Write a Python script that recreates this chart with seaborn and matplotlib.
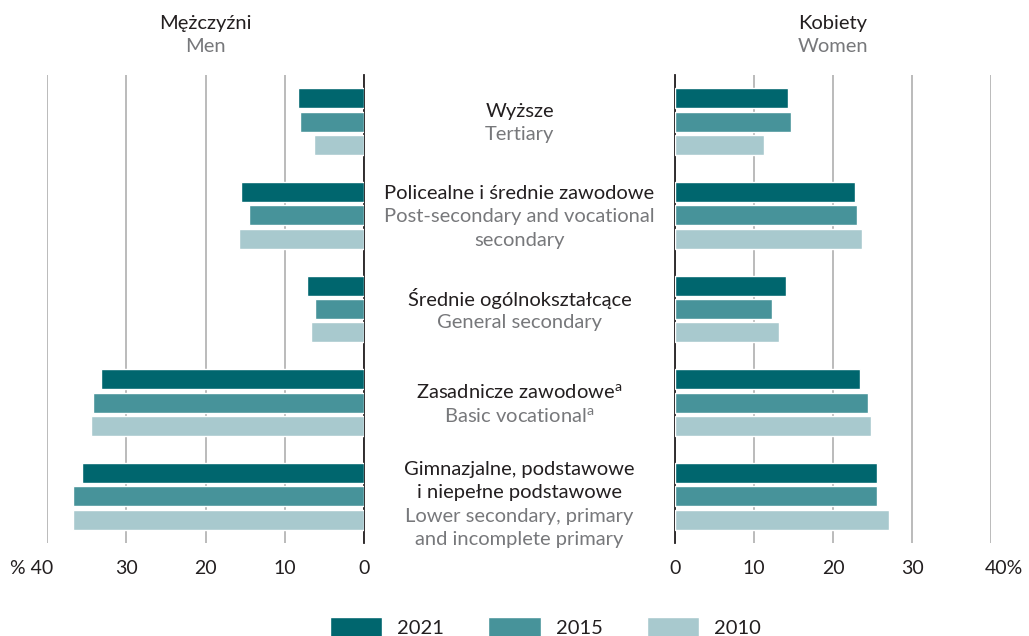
import numpy as np
import pandas as pd
import matplotlib.pyplot as plt
import seaborn as sns
from matplotlib.patches import Patch
from matplotlib.transforms import blended_transform_factory, ScaledTranslation

# data (percent)
categories = ["Wyższe", "Policealne i średnie zawodowe", "Średnie ogólnokształcące",
              "Zasadnicze zawodowe", "Gimnazjalne, podstawowe i niepełne podstawowe"]
labels_pl = [["Wyższe"], ["Policealne i średnie zawodowe"], ["Średnie ogólnokształcące"],
             ["Zasadnicze zawodowe$^{\\mathregular{a}}$"],
             ["Gimnazjalne, podstawowe", "i niepełne podstawowe"]]
labels_en = [["Tertiary"], ["Post-secondary and vocational", "secondary"], ["General secondary"],
             ["Basic vocational$^{\\mathregular{a}}$"],
             ["Lower secondary, primary", "and incomplete primary"]]
years = ["2021", "2015", "2010"]

men_2021 = [8.3, 15.5, 7.2, 33.2, 35.6]
men_2015 = [8.1, 14.5, 6.2, 34.2, 36.7]
men_2010 = [6.3, 15.8, 6.7, 34.4, 36.7]
women_2021 = [14.3, 22.8, 14.0, 23.4, 25.6]
women_2015 = [14.7, 23.0, 12.3, 24.4, 25.6]
women_2010 = [11.3, 23.7, 13.2, 24.8, 27.1]

colors = ["#00666e", "#47939a", "#a8c9ce"]
dark = "#231f20"
grey = "#77787b"

rows = []
for sex, series in [("M", [men_2021, men_2015, men_2010]),
                    ("K", [women_2021, women_2015, women_2010])]:
    for year, vals in zip(years, series):
        for cat, v in zip(categories, vals):
            rows.append({"sex": sex, "year": year, "cat": cat, "value": v})
df = pd.DataFrame(rows)

sns.set_theme(style="white")
plt.rcParams["font.family"] = ["Lato", "DejaVu Sans"]
plt.rcParams["mathtext.default"] = "regular"
fs = 14.5

fig = plt.figure(figsize=(10.29, 6.36), dpi=100)
W, H = 1029, 636
ax_l = fig.add_axes([47 / W, 1 - 543 / H, 317 / W, 468 / H])
ax_r = fig.add_axes([675 / W, 1 - 543 / H, 316 / W, 468 / H])

for ax, sex in [(ax_l, "M"), (ax_r, "K")]:
    sns.barplot(data=df[df.sex == sex], x="value", y="cat", hue="year",
                order=categories, hue_order=years, palette=colors, saturation=1,
                orient="h", width=0.75, gap=0.15, legend=False, ax=ax, zorder=3)
    ax.set_xlabel("")
    ax.set_ylabel("")
    ax.set_yticks([])
    ax.set_xticks([0, 10, 20, 30, 40])
    ax.xaxis.grid(True, color="#b5b5b5", lw=1.3, zorder=0)
    ax.tick_params(axis="x", length=0, pad=12, labelsize=14, labelcolor=dark)
    for s in ax.spines.values():
        s.set_visible(False)

ax_l.set_xlim(40, 0)
ax_r.set_xlim(0, 40)
ax_l.spines["right"].set_visible(True)
ax_l.spines["right"].set_color(dark)
ax_l.spines["right"].set_linewidth(1.3)
ax_r.spines["left"].set_visible(True)
ax_r.spines["left"].set_color(dark)
ax_r.spines["left"].set_linewidth(1.3)

ax_l.set_xticklabels(["0", "10", "20", "30", "% 40"])
lbl = ax_l.get_xticklabels()[-1]
lbl.set_ha("right")
lbl.set_transform(lbl.get_transform() + ScaledTranslation(6 / 100, 0, fig.dpi_scale_trans))
ax_r.set_xticklabels(["0", "10", "20", "30", "40%"])
lbl = ax_r.get_xticklabels()[-1]
lbl.set_ha("left")
lbl.set_transform(lbl.get_transform() + ScaledTranslation(-6 / 100, 0, fig.dpi_scale_trans))

# headers
fig.text(205.5 / W, 1 - 24 / H, "Mężczyźni", ha="center", va="center", fontsize=fs, color=dark)
fig.text(205.5 / W, 1 - 47 / H, "Men", ha="center", va="center", fontsize=fs, color=grey)
fig.text(833 / W, 1 - 24 / H, "Kobiety", ha="center", va="center", fontsize=fs, color=dark)
fig.text(833 / W, 1 - 47 / H, "Women", ha="center", va="center", fontsize=fs, color=grey)

# centre labels
trans = blended_transform_factory(fig.transFigure, ax_l.transData)
step = 16.8
for i, (pl, en) in enumerate(zip(labels_pl, labels_en)):
    lines = [(t, dark) for t in pl] + [(t, grey) for t in en]
    n = len(lines)
    shift = -6 if n > 3 else -1
    for k, (t, c) in enumerate(lines):
        ax_l.annotate(t, xy=(519.5 / W, i), xycoords=trans,
                      xytext=(0, ((n - 1) / 2 - k) * step + shift), textcoords="offset points",
                      ha="center", va="center", fontsize=fs, color=c,
                      annotation_clip=False)

handles = [Patch(facecolor=c, label=y) for c, y in zip(colors, years)]
fig.legend(handles=handles, loc="upper center", bbox_to_anchor=(0.53, 1 - 607 / H), ncol=3,
           frameon=False, fontsize=fs, handlelength=2.6, handleheight=1.15,
           columnspacing=2.2, handletextpad=0.75, borderpad=0, labelcolor=dark)

fig.savefig("out.png", dpi=100)
